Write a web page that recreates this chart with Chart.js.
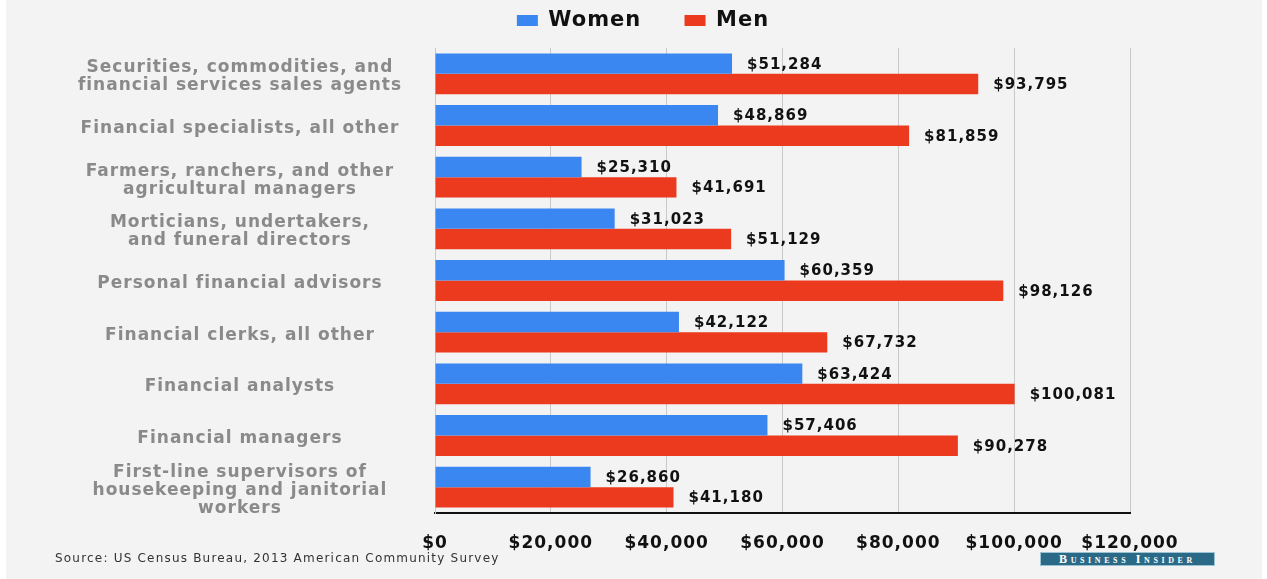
<!DOCTYPE html>
<html>
<head>
    <title>Pay gap in finance jobs</title>
    <script src="https://cdn.jsdelivr.net/npm/chart.js"></script>
    <style>
        body { margin: 0; background: #ffffff; }
        #page {
            position: relative;
            width: 1267px;
            height: 579px;
            background: #ffffff;
        }
        #panel {
            position: absolute;
            left: 6px;
            top: 0;
            width: 1256px;
            height: 579px;
            background: #f3f3f3;
        }
        .source {
            position: absolute;
            left: 55px;
            top: 551px;
            font-family: "DejaVu Sans", sans-serif;
            font-size: 12px;
            letter-spacing: 1.2px;
            color: #333333;
        }
        .brand {
            position: absolute;
            left: 1040px;
            top: 552px;
            width: 175px;
            height: 14px;
            background: #2b6a86;
            border: 1px solid #9cc3d3;
            box-sizing: border-box;
            color: #ffffff;
            font-family: "Liberation Serif", serif;
            font-weight: bold;
            font-variant: small-caps;
            font-size: 12px;
            letter-spacing: 3.6px;
            line-height: 12px;
            text-align: center;
        }
    </style>
</head>
<body>
    <div id="page">
        <div id="panel"></div>
        <div style="position: absolute; left: 0; top: 0; width: 1267px; height: 579px;">
            <canvas id="chart"></canvas>
        </div>
        <div class="source">Source: US Census Bureau, 2013 American Community Survey</div>
        <div class="brand">Business Insider</div>
    </div>
    <script>
        var occupations = [
            ['Securities, commodities, and', 'financial services sales agents'],
            'Financial specialists, all other',
            ['Farmers, ranchers, and other', 'agricultural managers'],
            ['Morticians, undertakers,', 'and funeral directors'],
            'Personal financial advisors',
            'Financial clerks, all other',
            'Financial analysts',
            'Financial managers',
            ['First-line supervisors of', 'housekeeping and janitorial', 'workers']
        ]
        var women = [51284, 48869, 25310, 31023, 60359, 42122, 63424, 57406, 26860]
        var men = [93795, 81859, 41691, 51129, 98126, 67732, 100081, 90278, 41180]

        function dollars(v) {
            return '$' + Number(v).toLocaleString('en-US')
        }

        // wide bold lettering: canvas letter spacing for every text the chart draws
        var spacing = {
            id: 'spacing',
            beforeLayout(chart) { chart.ctx.letterSpacing = '1px' },
            beforeDraw(chart) { chart.ctx.letterSpacing = '1px' }
        }

        // writes the dollar amount just past the end of each bar
        var barValues = {
            id: 'barValues',
            afterDatasetsDraw(chart) {
                var ctx = chart.ctx
                ctx.save()
                ctx.font = 'bold 15px "DejaVu Sans"'
                ctx.fillStyle = '#111111'
                ctx.textAlign = 'left'
                ctx.textBaseline = 'middle'
                chart.data.datasets.forEach(function (ds, i) {
                    chart.getDatasetMeta(i).data.forEach(function (bar, j) {
                        ctx.fillText(dollars(ds.data[j]), bar.x + 15, bar.y + 1)
                    })
                })
                ctx.restore()
            }
        }

        var ctx = document.getElementById('chart').getContext('2d')
        var chart = new Chart(ctx, {
            type: 'bar',
            data: {
                labels: occupations,
                datasets: [{
                    label: 'Women',
                    backgroundColor: '#3b87f2',
                    data: women
                }, {
                    label: 'Men',
                    backgroundColor: '#ec3a1f',
                    data: men
                }]
            },
            options: {
                indexAxis: 'y',
                responsive: true,
                maintainAspectRatio: false,
                animation: false,
                categoryPercentage: 0.79,
                barPercentage: 1,
                layout: {
                    padding: { top: 0, right: 0, bottom: 0, left: 19 }
                },
                plugins: {
                    tooltip: { enabled: false },
                    legend: {
                        position: 'top',
                        labels: {
                            boxWidth: 21,
                            boxHeight: 11,
                            padding: 10,
                            color: '#111111',
                            font: { family: 'DejaVu Sans', size: 21, weight: 'bold' },
                            generateLabels(chart) {
                                var items = Chart.defaults.plugins.legend.labels.generateLabels(chart)
                                items[0].text += '    '
                                return items
                            }
                        }
                    },
                    // empty strip between the legend and the plot
                    subtitle: {
                        display: true,
                        text: '',
                        weight: 500,
                        padding: 0,
                        font: { size: 7, lineHeight: 1 }
                    }
                },
                scales: {
                    x: {
                        min: 0,
                        max: 120000,
                        afterFit(scale) {
                            scale.height = 66
                            scale.paddingRight = 137
                        },
                        ticks: {
                            stepSize: 20000,
                            padding: 20,
                            color: '#111111',
                            font: { family: 'DejaVu Sans', size: 17, weight: 'bold' },
                            callback: function (v) { return dollars(v) }
                        },
                        grid: { color: '#c9c9c9', drawTicks: false },
                        border: { color: '#111111', width: 2 }
                    },
                    y: {
                        afterFit(scale) {
                            scale.width = 416
                            scale.paddingTop = 0
                            scale.paddingBottom = 0
                        },
                        ticks: {
                            autoSkip: false,
                            crossAlign: 'center',
                            padding: 25,
                            labelOffset: 3,
                            color: '#8a8a8a',
                            font: { family: 'DejaVu Sans', size: 17, weight: 'bold', lineHeight: 1.06 }
                        },
                        grid: { display: false },
                        border: { color: '#c9c9c9', width: 1 }
                    }
                }
            },
            plugins: [spacing, barValues]
        })
    </script>
</body>
</html>
